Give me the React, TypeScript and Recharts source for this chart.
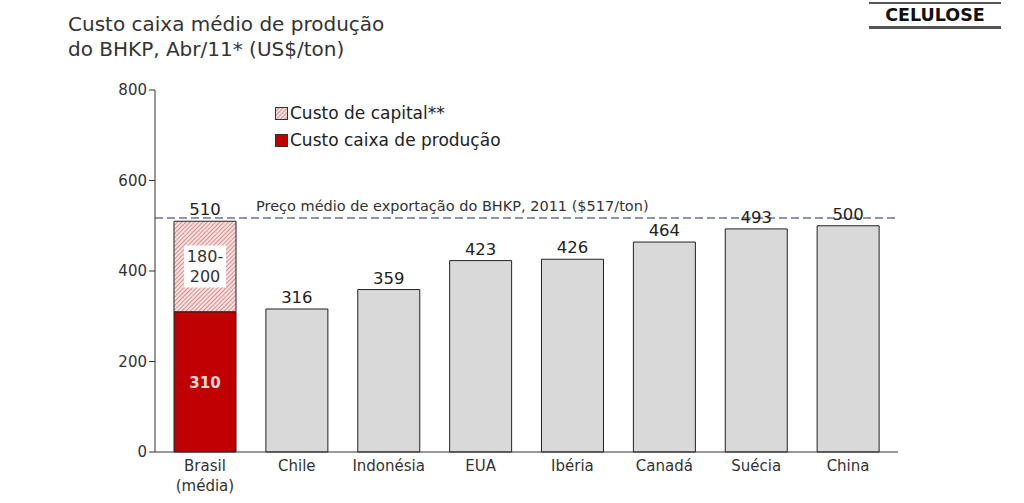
import React from "react";
import { BarChart, Bar, XAxis, YAxis, ReferenceLine, LabelList, Cell } from "recharts";

const categories = ["Brasil\n(média)", "Chile", "Indonésia", "EUA", "Ibéria", "Canadá", "Suécia", "China"];
const cashCost = [310, 316, 359, 423, 426, 464, 493, 500];
const capitalCost = [200, 0, 0, 0, 0, 0, 0, 0];
const totalLabels = ["510", "316", "359", "423", "426", "464", "493", "500"];
const capitalLabel = ["180-", "200"];
const yTicks = [0, 200, 400, 600, 800];
const exportPrice = 517;

const data = categories.map((c, i) => ({
  name: c,
  cash: cashCost[i],
  capital: capitalCost[i],
  total: totalLabels[i],
}));

const FONT = "'DejaVu Sans', Verdana, sans-serif";

const XTick = (props: any) => {
  const { x, y, payload } = props;
  const lines = String(payload.value).split("\n");
  return (
    <g>
      {lines.map((l: string, i: number) => (
        <text key={i} x={x} y={y + 11 + i * 20} textAnchor="middle" fontFamily={FONT} fontSize={15} fill="#333">
          {l}
        </text>
      ))}
    </g>
  );
};

const TotalLabel = (props: any) => {
  const { x, y, width, index, onTop } = props;
  if (onTop ? capitalCost[index] === 0 : capitalCost[index] !== 0) return null;
  return (
    <text x={x + width / 2} y={y - 6} textAnchor="middle" fontFamily={FONT} fontSize={16.5} fill="#222">
      {totalLabels[index]}
    </text>
  );
};

const CapitalInner = (props: any) => {
  const { x, y, width, height, index } = props;
  if (capitalCost[index] === 0) return null;
  const cx = x + width / 2;
  const cy = y + height / 2;
  return (
    <g>
      <rect x={cx - 21} y={cy - 21} width={42} height={42} fill="#fff" />
      <text x={cx} y={cy - 4} textAnchor="middle" fontFamily={FONT} fontSize={16} fill="#333">
        {capitalLabel[0]}
      </text>
      <text x={cx} y={cy + 16} textAnchor="middle" fontFamily={FONT} fontSize={16} fill="#333">
        {capitalLabel[1]}
      </text>
    </g>
  );
};

const CashInner = (props: any) => {
  const { x, y, width, height, index } = props;
  if (index !== 0) return null;
  return (
    <text x={x + width / 2} y={y + height / 2 + 6} textAnchor="middle" fontFamily={FONT} fontSize={15} fontWeight="bold" fill="#ffd8d8">
      {cashCost[index]}
    </text>
  );
};

export default function App() {
  return (
    <div style={{ position: "absolute", left: 0, top: 0, width: 1024, height: 503, background: "#fff" }}>
      <div style={{ position: "absolute", left: 68, top: 12, fontFamily: FONT, fontSize: 20, color: "#333", lineHeight: "25px" }}>
        Custo caixa médio de produção
        <br />
        do BHKP, Abr/11* (US$/ton)
      </div>
      <div style={{ position: "absolute", left: 869, top: 2, width: 132 }}>
        <div style={{ height: 2, background: "#555" }} />
        <div style={{ textAlign: "center", fontFamily: FONT, fontWeight: "bold", fontSize: 17.5, color: "#111", lineHeight: "22px" }}>
          CELULOSE
        </div>
        <div style={{ height: 3, background: "#555" }} />
      </div>
      <svg width={0} height={0} style={{ position: "absolute" }}>
        <defs>
          <pattern id="hatch" patternUnits="userSpaceOnUse" width={3} height={3} patternTransform="rotate(45)">
            <rect width={3} height={3} fill="#f6e0e0" />
            <line x1={0} y1={0} x2={0} y2={3} stroke="#c85858" strokeWidth={1.2} />
          </pattern>
        </defs>
      </svg>
      <BarChart
        width={1024}
        height={503}
        data={data}
        margin={{ top: 90, right: 126, bottom: 0, left: 0 }}
        barSize={62}
        style={{ position: "absolute", left: 0, top: 0 }}
      >
        <XAxis
          dataKey="name"
          tick={<XTick />}
          tickLine={false}
          axisLine={{ stroke: "#333" }}
          padding={{ left: 4, right: 4 }}
          interval={0}
          height={51}
        />
        <YAxis
          width={155}
          domain={[0, 800]}
          ticks={yTicks}
          axisLine={{ stroke: "#333" }}
          tickLine={{ stroke: "#333" }}
          tickSize={6}
          tick={{ fontFamily: FONT, fontSize: 15, fill: "#333" }}
        />
        <ReferenceLine
          y={exportPrice}
          stroke="#6a7590"
          strokeDasharray="8 4"
          strokeWidth={1.5}
          label={{
            value: "Preço médio de exportação do BHKP, 2011 ($517/ton)",
            position: "insideTopLeft",
            dx: 96,
            dy: -22,
            fontFamily: FONT,
            fontSize: 14.5,
            fill: "#333",
          }}
        />
        <Bar dataKey="cash" stackId="a" stroke="#222" strokeWidth={1} isAnimationActive={false} name="Custo caixa de produção">
          {data.map((d, i) => (
            <Cell key={i} fill={i === 0 ? "#c00000" : "#d9d9d9"} />
          ))}
          <LabelList content={<CashInner />} />
          <LabelList content={<TotalLabel onTop={false} />} />
        </Bar>
        <Bar dataKey="capital" stackId="a" fill="url(#hatch)" stroke="#222" strokeWidth={1} isAnimationActive={false} name="Custo de capital**">
          <LabelList content={<CapitalInner />} />
          <LabelList content={<TotalLabel onTop={true} />} />
        </Bar>
      </BarChart>
      <div style={{ position: "absolute", left: 275, top: 100, fontFamily: FONT, fontSize: 17, color: "#222", lineHeight: "27px" }}>
        <div style={{ display: "flex", alignItems: "center" }}>
          <svg width={13} height={13} style={{ marginRight: 2 }}>
            <rect x={0.5} y={0.5} width={12} height={12} fill="url(#hatch)" stroke="#333" />
          </svg>
          Custo de capital**
        </div>
        <div style={{ display: "flex", alignItems: "center" }}>
          <svg width={13} height={13} style={{ marginRight: 2 }}>
            <rect x={0.5} y={0.5} width={12} height={12} fill="#c00000" stroke="#333" />
          </svg>
          Custo caixa de produção
        </div>
      </div>
    </div>
  );
}
